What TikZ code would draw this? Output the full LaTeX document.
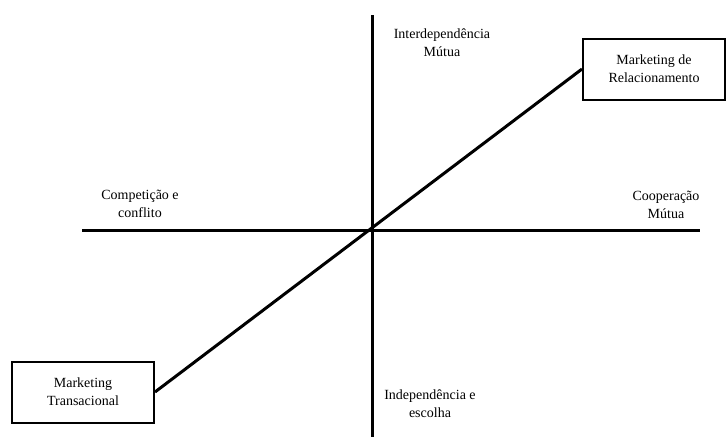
\documentclass[tikz,border=0pt]{standalone}
\usepackage{fontspec}
\setmainfont{Liberation Serif}
\begin{document}
\begin{tikzpicture}[x=1pt, y=-1pt,
    axis/.style={line width=3pt},
    mbox/.style={draw, line width=2pt, align=center, minimum width=142pt, minimum height=61pt, inner sep=0pt},
    lbl/.style={align=center, font=\fontsize{14}{18}\selectfont}]
        \useasboundingbox (0,0) rectangle (728,437);
        % Nodes
        \node[mbox, lbl] (R) at (654, 69) {Marketing de\\Relacionamento};
        \node[mbox, lbl] (T) at (83, 392) {Marketing\\Transacional};
        \node[lbl] (I) at (442, 43) {Interdependência\\Mútua};
        \node[lbl] (E) at (430, 404) {Independência e\\escolha};
        \node[lbl] (C) at (140, 204) {Competição e\\conflito};
        \node[lbl] (M) at (666, 205) {Cooperação\\Mútua};
        \coordinate (N) at (372, 15);
        \coordinate (S) at (372, 437);
        \coordinate (W) at (82, 230);
        \coordinate (O) at (700, 230);

        % Edges
        \draw[axis] (N) -- (S);
        \draw[axis] (W) -- (O);
        \draw[axis] (T.east) -- (R.west);
    \end{tikzpicture}
\end{document}
